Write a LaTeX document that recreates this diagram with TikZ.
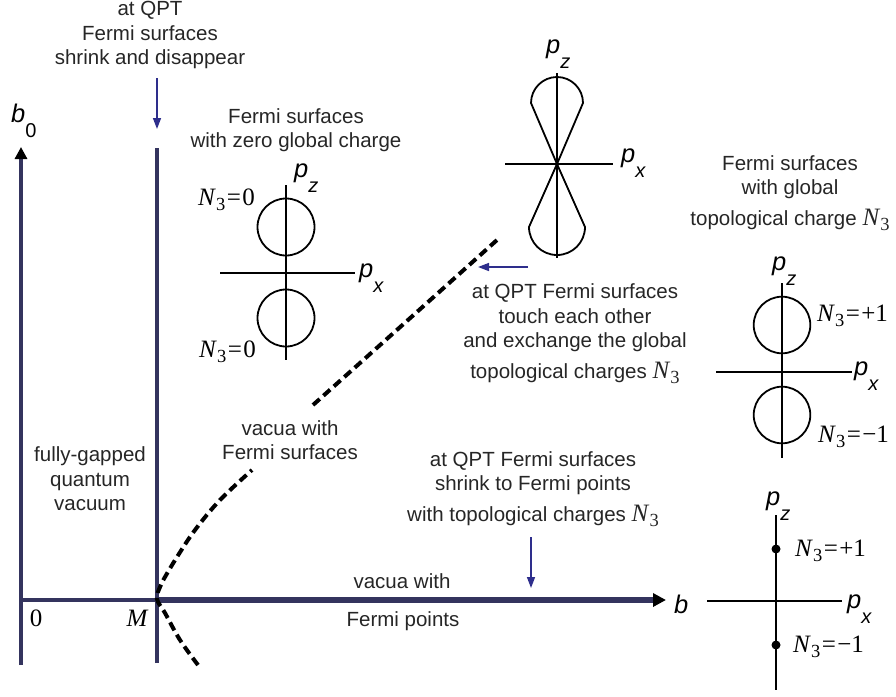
\documentclass[tikz,border=0pt]{standalone}
\usepackage{fontspec}
\setmainfont{Liberation Sans}
\newfontfamily\serifN{Liberation Serif}
\usetikzlibrary{arrows.meta}
\definecolor{navy}{RGB}{52,52,94}
\definecolor{arrblue}{RGB}{46,46,140}
\newcommand\plab[2]{{\fontsize{25.5}{25.5}\selectfont\itshape #1\raisebox{-15pt}{\fontsize{20}{20}\selectfont #2}}}
\newcommand\Nsym{{\serifN\fontsize{25}{25}\selectfont\itshape N\/\raisebox{-5.5pt}{\upshape\fontsize{18.5}{18.5}\selectfont 3}}}
\newcommand\Nthree[1]{\Nsym{\serifN\fontsize{25}{25}\selectfont\kern1.5pt=\kern1.5pt#1}}
\begin{document}
\begin{tikzpicture}[x=1pt,y=-1pt,
  txt/.style={font=\fontsize{20.5}{24.5}\selectfont, text=black!85, align=center, inner sep=0pt},
  lab/.style={anchor=base west, inner sep=0pt, text=black},
  serl/.style={inner sep=0pt, font=\serifN\fontsize{25}{25}\selectfont},
  ax/.style={black, line width=1.8pt},
  fsline/.style={black, line width=4pt, dash pattern=on 9pt off 5pt},
  qarrow/.style={arrblue, line width=1.5pt, -{Triangle[length=11pt,width=8pt]}}]
\useasboundingbox (0,0) rectangle (896,696);

% main axes
\coordinate (O) at (21,600);
\coordinate (M) at (157,600);
\coordinate (b0top) at (21,147);
\coordinate (b0bot) at (21,665);
\coordinate (Mtop) at (157,148);
\coordinate (Mbot) at (157,663);
\coordinate (bend) at (666,600);
\draw[navy, line width=3.2pt, -{Triangle[length=12pt,width=12pt,color=black,fill=black]}] (b0bot) -- (b0top);
\draw[navy, line width=3.2pt] (O) -- (M);
\draw[navy, line width=4.6pt] (Mbot) -- (Mtop);
\draw[navy, line width=5.5pt, -{Triangle[length=13pt,width=13pt,color=black,fill=black]}] (M) -- (bend);

\node[lab] (b0lab) at (11,122) {\plab{b}{\upshape 0}};
\node[lab] (blab) at (674,613) {\plab{b}{}};
\node[serl] (zero) at (36,618) {0};
\node[serl] (Mlab) at (137,618) {\itshape M};

% dashed boundary
\draw[fsline] plot[smooth, tension=0.6] coordinates {(198,665) (180,640) (165,613) (157,599) (160,587) (165,577) (177,557) (195,530) (220,500) (252,470)};
\draw[fsline] plot[smooth] coordinates {(313,405) (408,320) (497,240)};

% texts
\node[txt] (qpt1) at (150,35) {at QPT\\Fermi surfaces\\shrink and disappear};
\node[txt] (zerog) at (296,130) {Fermi surfaces\\with zero global charge};
\node[txt] (globt) at (790,193) {Fermi surfaces\\with global\\[6pt]topological charge \Nsym};
\node[txt] (touch) at (575,334) {at QPT Fermi surfaces\\touch each other\\and exchange the global\\[6pt]topological charges \Nsym};
\node[txt] (vacfs) at (290,440) {vacua with\\Fermi surfaces};
\node[txt] (gapped) at (90,479) {fully-gapped\\quantum\\vacuum};
\node[txt] (shrinkp) at (533,489) {at QPT Fermi surfaces\\shrink to Fermi points\\[6pt]with topological charges \Nsym};
\node[txt] (vacw) at (402,581) {vacua with};
\node[txt] (fpts) at (403,621) {Fermi points};

% arrows
\coordinate (a1s) at (157,78);
\coordinate (a1e) at (157,129);
\draw[qarrow] (a1s) -- (a1e);
\coordinate (a2s) at (528,267);
\coordinate (a2e) at (478,267);
\draw[qarrow] (a2s) -- (a2e);
\coordinate (a3s) at (531,537);
\coordinate (a3e) at (531,588);
\draw[qarrow] (a3s) -- (a3e);

% plot 1: zero global charge
\draw[ax] (220,273) -- (355,273);
\draw[ax] (286,185) -- (286,360);
\draw[ax] (286,227) circle[radius=28.5];
\draw[ax] (286,318) circle[radius=28.5];
\node[lab] (p1z) at (294,177) {\plab{p}{z}};
\node[lab] (p1x) at (359,277) {\plab{p}{x}};
\node[lab] (n1a) at (198,205) {\Nthree{0}};
\node[lab] (n1b) at (199,357) {\Nthree{0}};

% plot 2: touching lobes
\draw[ax] (505,164) -- (613,164);
\draw[ax] (557,73) -- (557,258);
\draw[ax] (557,164) -- (531,103) arc[start angle=180, end angle=360, radius=26] -- cycle;
\draw[ax] (557,164) -- (529,227) arc[start angle=180, end angle=0, radius=28] -- cycle;
\node[lab] (p2z) at (546,53) {\plab{p}{z}};
\node[lab] (p2x) at (621,162) {\plab{p}{x}};

% plot 3: charged surfaces
\draw[ax] (716,372) -- (852,372);
\draw[ax] (782,283) -- (782,458);
\draw[ax] (782,325) circle[radius=28.3];
\draw[ax] (782,415) circle[radius=28.3];
\node[lab] (p3z) at (772,270) {\plab{p}{z}};
\node[lab] (p3x) at (854,375) {\plab{p}{x}};
\node[lab] (n3a) at (817,321) {\Nthree{+1}};
\node[lab] (n3b) at (818,442) {\Nthree{−1}};

% plot 4: Fermi points
\draw[ax] (707,601) -- (842,601);
\draw[ax] (776,515) -- (776,690);
\fill (776,549) circle[radius=4.5];
\fill (776,645) circle[radius=4.5];
\node[lab] (p4z) at (766,505) {\plab{p}{z}};
\node[lab] (p4x) at (847,608) {\plab{p}{x}};
\node[lab] (n4a) at (795,556) {\Nthree{+1}};
\node[lab] (n4b) at (793,652) {\Nthree{−1}};
\end{tikzpicture}
\end{document}
